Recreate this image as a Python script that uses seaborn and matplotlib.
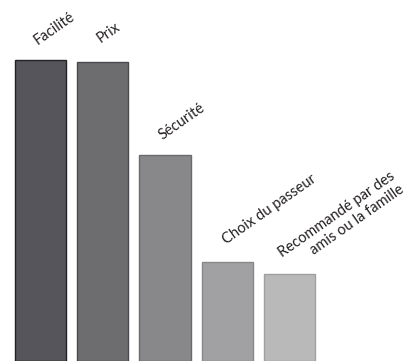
import matplotlib
matplotlib.use("Agg")
import matplotlib.pyplot as plt
import matplotlib.transforms as mtransforms
import seaborn as sns
import pandas as pd

categories = ["Facilité", "Prix", "Sécurité", "Choix du passeur",
              "Recommandé par des\namis ou la famille"]
values = [30.1, 29.9, 20.6, 9.9, 8.7]

bar_colors = ["#54545c", "#6c6d71", "#87888c", "#a1a1a4", "#b9b9ba"]
edge_colors = ["#222226", "#4a4a4e", "#6a6a6e", "#88888b", "#a0a0a2"]
# label anchor offsets in pixels from the top-centre of each bar
label_offsets = [(-3, 15), (-2, 19), (-2.5, 15), (-1, 17), (1, 5)]

sns.set_theme(style="white")
plt.rcParams["font.family"] = ["Lato", "DejaVu Sans"]

df = pd.DataFrame({"cat": categories, "val": values})

fig = plt.figure(figsize=(4.15, 3.61), dpi=100)
ax = fig.add_axes([0, 0, 1, 1])
sns.barplot(data=df, x="cat", y="val", hue="cat", palette=bar_colors,
            width=0.82, legend=False, ax=ax, linewidth=1.0)
for p, ec in zip(ax.patches, edge_colors):
    p.set_edgecolor(ec)

ax.set_xlim(-0.651, 6.016)
ax.set_ylim(0, 36.1)
ax.axis("off")

for i, (lab, v) in enumerate(zip(categories, values)):
    dx, dy = label_offsets[i]
    tr = ax.transData + mtransforms.ScaledTranslation(dx / 100, dy / 100, fig.dpi_scale_trans)
    ax.text(i, v, lab, transform=tr, rotation=35, rotation_mode="anchor",
            ha="left", va="baseline", multialignment="right",
            fontsize=10.5, color="#231f20", linespacing=1.15)

fig.savefig("out.png", dpi=100)
